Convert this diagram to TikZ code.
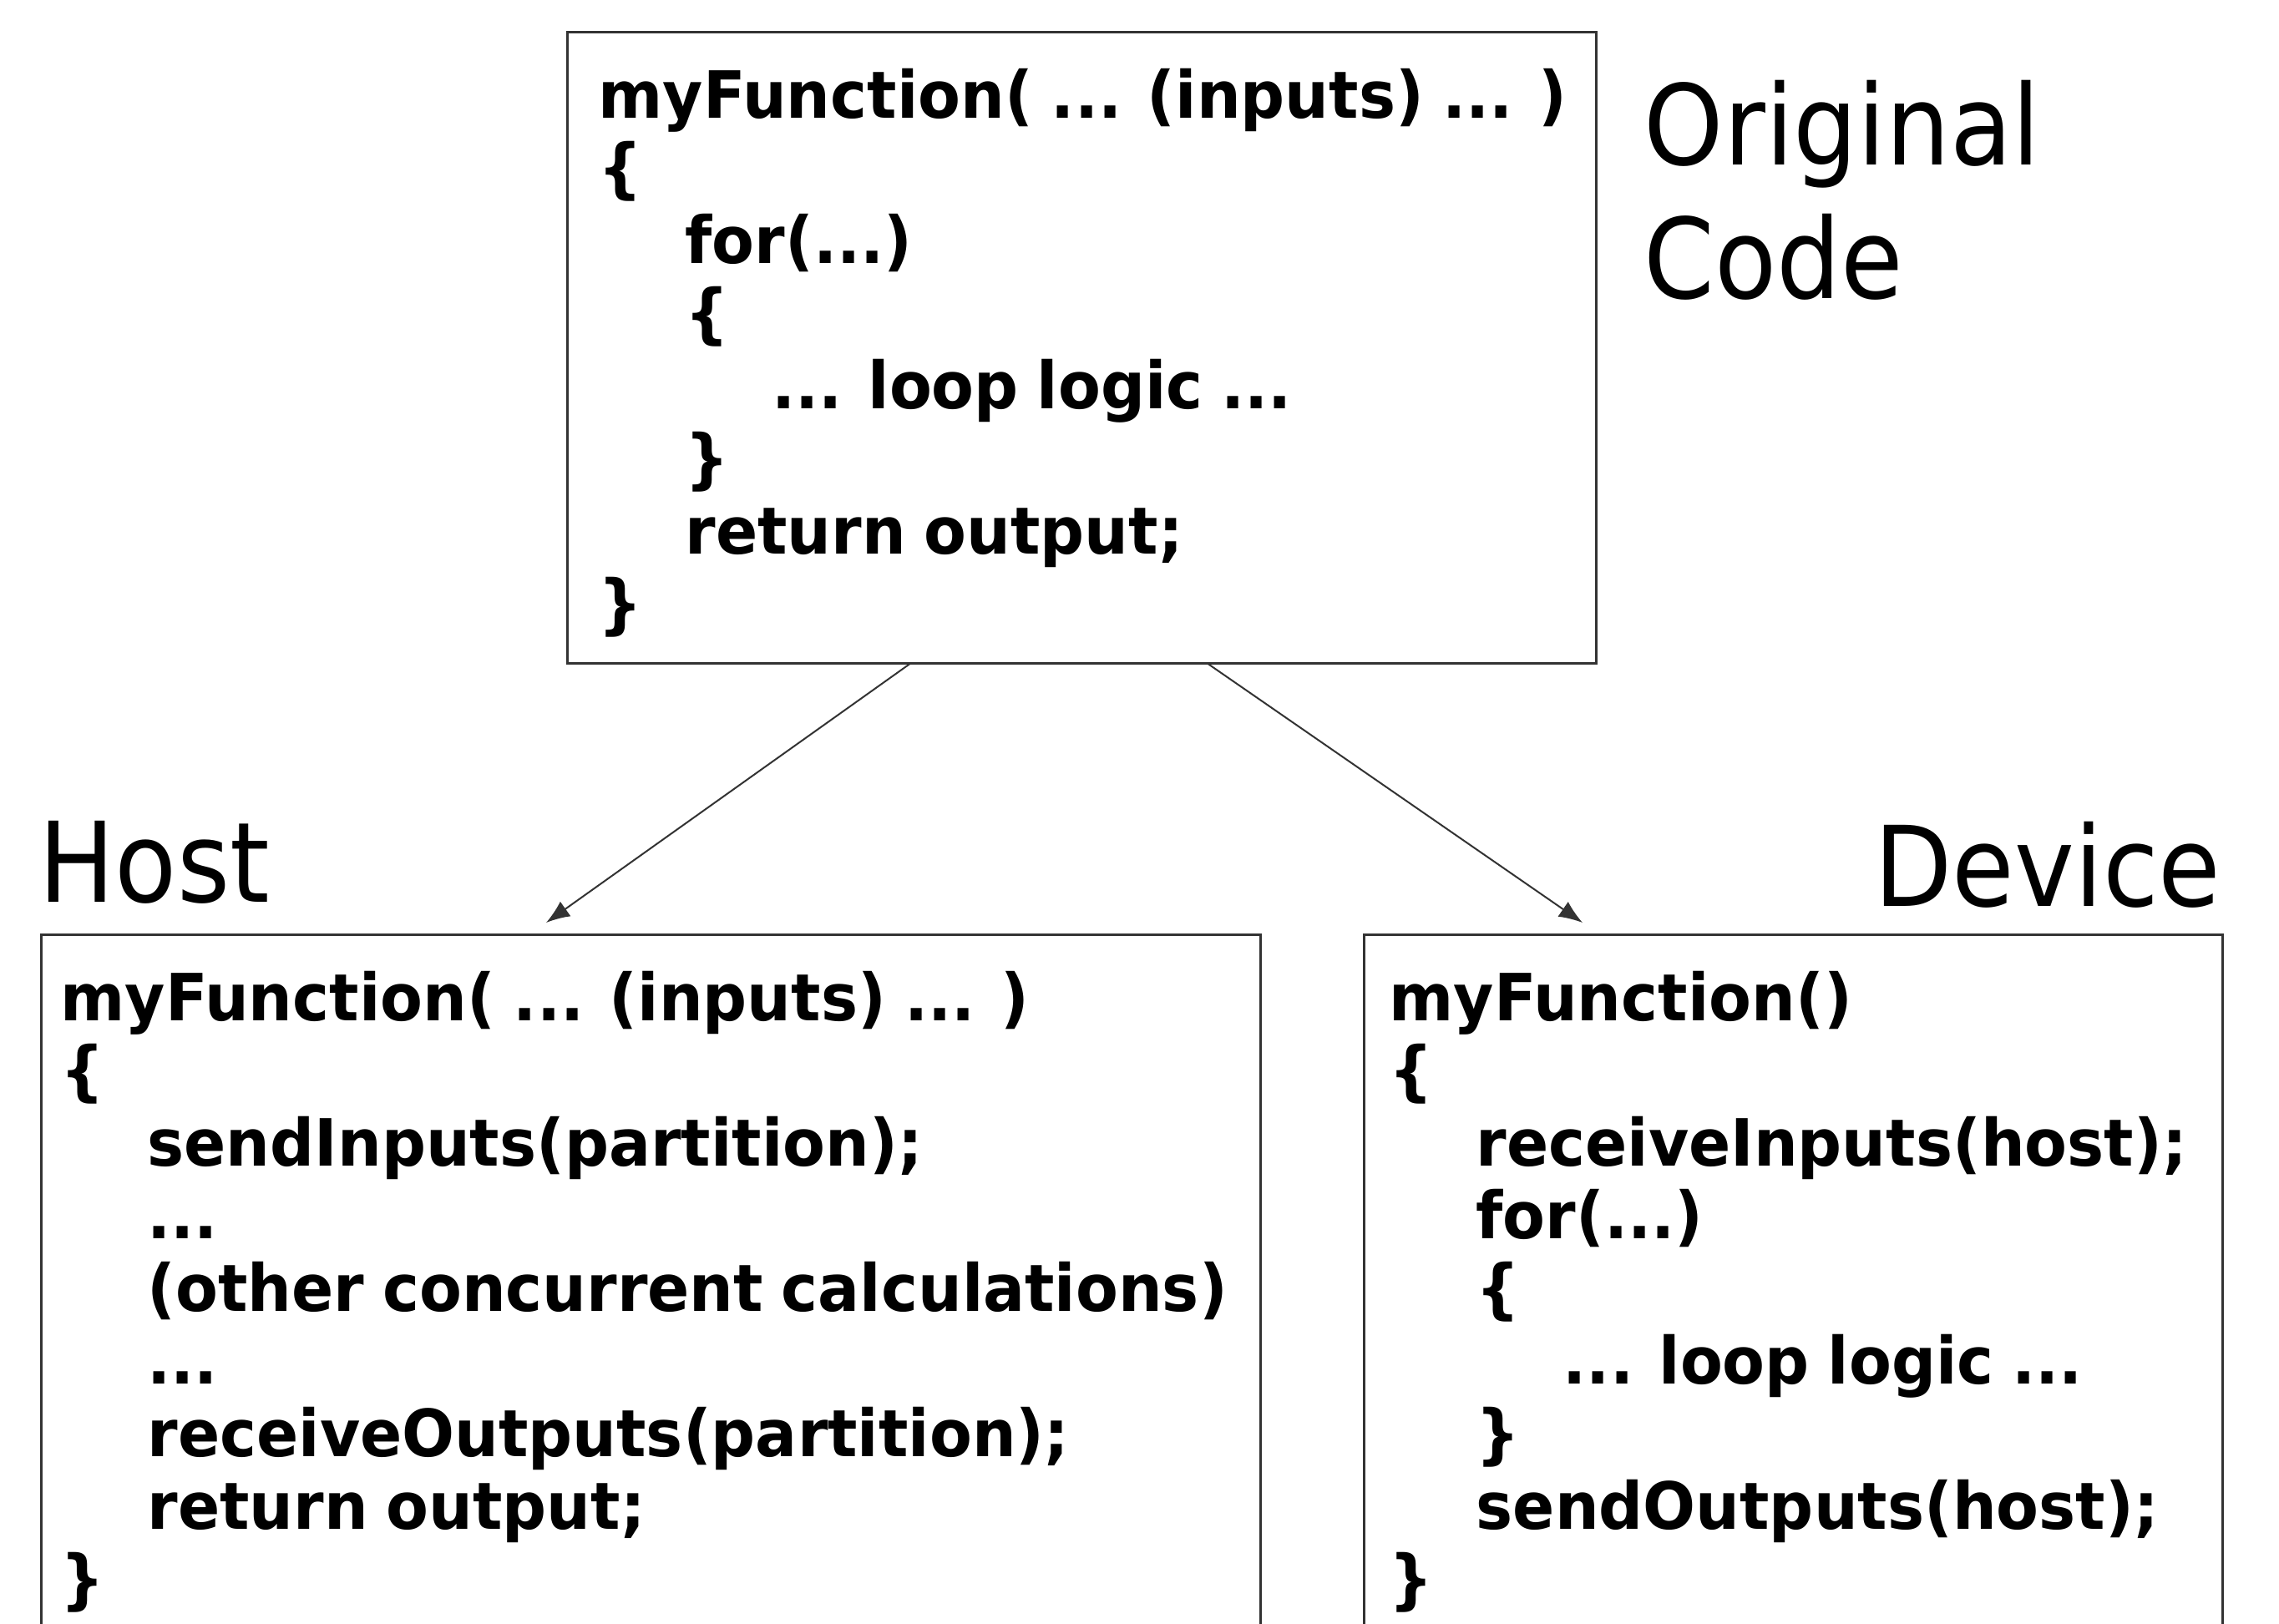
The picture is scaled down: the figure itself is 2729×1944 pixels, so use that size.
\documentclass[tikz,border=0pt]{standalone}
\usepackage{fontspec}
\setmainfont{DejaVu Sans}
\newfontfamily\codefont{DejaVu Sans}[FakeStretch=0.95,WordSpace=0.85]
\newfontfamily\labfont{DejaVu Sans}[FakeStretch=0.91]
\usetikzlibrary{arrows.meta,calc}
\definecolor{boxc}{HTML}{333333}
\definecolor{linec}{HTML}{333333}
\begin{document}
\begin{tikzpicture}[x=0.3pt,y=-0.3pt,
  box/.style={draw=boxc, line width=0.9pt, inner sep=0, outer sep=0, anchor=north west},
  code/.style={font=\codefont\bfseries\fontsize{23.4pt}{26pt}\selectfont, anchor=base west, inner sep=0},
  lab/.style={font=\labfont\fontsize{40pt}{48pt}\selectfont, inner sep=0},
  arr/.style={draw=linec, line width=0.6pt, -{Latex[length=8.5pt,width=6.5pt]}}]
\clip (0,0) rectangle (2729,1944);
\fill[white] (0,0) rectangle (2729,1944);

% boxes
\node[box, minimum width=369.6pt, minimum height=226.8pt] (top) at (679,38) {};
\node[box, minimum width=438pt, minimum height=270pt] (host) at (49,1119) {};
\node[box, minimum width=308.4pt, minimum height=270pt] (dev) at (1633,1119) {};

% labels
\node[lab, anchor=base west] (orig) at (1968,197) {Original};
\node[lab, anchor=base west] (codelab) at (1968,357) {Code};
\node[lab, anchor=base west] (hostlab) at (46,1080) {Host};
\node[lab, anchor=base east] (devlab) at (2660,1085) {Device};

% original code
\node[code] (t1) at (716,141) {myFunction( ... (inputs) ... )};
\node[code] (t2) at (716,228) {\{};
\node[code] (t3) at (820,315) {for(...)};
\node[code] (t4) at (820,402) {\{};
\node[code] (t5) at (924,489) {... loop logic ...};
\node[code] (t6) at (820,576) {\}};
\node[code] (t7) at (820,663) {return output;};
\node[code] (t8) at (716,750) {\}};

% host code
\node[code] (h1) at (72,1222) {myFunction( ... (inputs) ... )};
\node[code] (h2) at (72,1309) {\{};
\node[code] (h3) at (176,1396) {sendInputs(partition);};
\node[code] (h4) at (176,1483) {...};
\node[code] (h5) at (176,1570) {(other concurrent calculations)};
\node[code] (h6) at (176,1657) {...};
\node[code] (h7) at (176,1744) {receiveOutputs(partition);};
\node[code] (h8) at (176,1831) {return output;};
\node[code] (h9) at (72,1918) {\}};

% device code
\node[code] (d1) at (1663,1222) {myFunction()};
\node[code] (d2) at (1663,1309) {\{};
\node[code] (d3) at (1767,1396) {receiveInputs(host);};
\node[code] (d4) at (1767,1483) {for(...)};
\node[code] (d5) at (1767,1570) {\{};
\node[code] (d6) at (1871,1657) {... loop logic ...};
\node[code] (d7) at (1767,1744) {\}};
\node[code] (d8) at (1767,1831) {sendOutputs(host);};
\node[code] (d9) at (1663,1918) {\}};

% arrows
\coordinate (hosttip) at (654,1105);
\coordinate (devtip) at (1895,1105);
\draw[arr] ($(top.south west)!0.3344!(top.south east)$) -- (hosttip);
\draw[arr] ($(top.south west)!0.6218!(top.south east)$) -- (devtip);
\end{tikzpicture}
\end{document}
